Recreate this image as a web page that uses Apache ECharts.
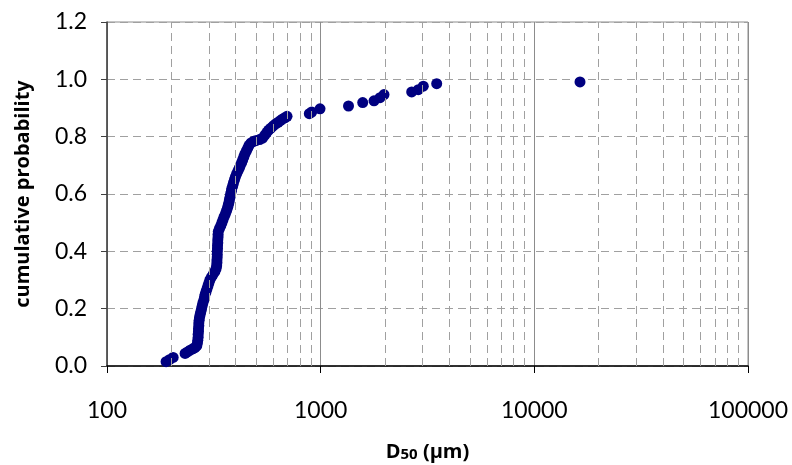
<!DOCTYPE html>
<html>
<head>
<meta charset="utf-8">
<script src="https://cdn.jsdelivr.net/npm/echarts@6/dist/echarts.min.js"></script>
<style>
  html, body { margin: 0; padding: 0; background: #fff; }
  #chart { width: 792px; height: 465px; }
</style>
</head>
<body>
<div id="chart"></div>
<script>
// D50 grain size (µm) and its cumulative probability
const d50 = [
  189, 196, 204, 232, 238, 245, 252, 258, 263, 265,
  266, 267, 267, 268, 268, 269, 269, 270, 271, 273,
  275, 277, 279, 281, 284, 286, 288, 291, 294, 297,
  300, 303, 308, 314, 320, 324, 326, 327, 327, 328,
  328, 328, 329, 329, 330, 330, 331, 331, 332, 336,
  341, 345, 349, 353, 358, 362, 366, 369, 372, 374,
  377, 379, 382, 384, 388, 391, 395, 399, 404, 410,
  416, 421, 427, 432, 437, 442, 449, 456, 462, 472,
  486, 500, 518, 535, 548, 560, 571, 585, 600, 616,
  632, 648, 664, 680, 696, 885, 908, 993, 1350, 1573,
  1777, 1896, 1979, 2667, 2864, 3022, 3492, 16360
];
const prob = [
  0.015, 0.022, 0.030, 0.044, 0.049, 0.055, 0.060, 0.064, 0.070, 0.080,
  0.090, 0.100, 0.110, 0.120, 0.130, 0.140, 0.150, 0.160, 0.170, 0.180,
  0.190, 0.200, 0.210, 0.220, 0.230, 0.240, 0.250, 0.260, 0.270, 0.280,
  0.290, 0.300, 0.310, 0.320, 0.330, 0.340, 0.350, 0.360, 0.370, 0.380,
  0.390, 0.400, 0.410, 0.420, 0.430, 0.440, 0.450, 0.460, 0.470, 0.480,
  0.490, 0.500, 0.510, 0.520, 0.530, 0.540, 0.550, 0.560, 0.570, 0.580,
  0.590, 0.600, 0.610, 0.620, 0.630, 0.640, 0.650, 0.660, 0.670, 0.680,
  0.690, 0.700, 0.710, 0.720, 0.730, 0.740, 0.750, 0.760, 0.770, 0.778,
  0.784, 0.787, 0.790, 0.795, 0.805, 0.815, 0.823, 0.830, 0.838, 0.845,
  0.850, 0.856, 0.862, 0.866, 0.871, 0.880, 0.886, 0.897, 0.907, 0.919,
  0.925, 0.936, 0.947, 0.956, 0.964, 0.976, 0.985, 0.991
];
// minor (dashed) vertical gridlines of the log axis
const minorX = [
  200, 300, 400, 500, 600, 700, 800, 900,
  2000, 3000, 4000, 5000, 6000, 7000, 8000, 9000,
  20000, 30000, 40000, 50000, 60000, 70000, 80000, 90000
];

const font = "Lato, 'Open Sans', sans-serif";
const titleFont = "'Open Sans', Lato, sans-serif";
const chart = echarts.init(document.getElementById("chart"), null, { renderer: "canvas" });

chart.setOption({
  animation: false,
  backgroundColor: "#fff",
  grid: {
    left: 107, right: 44, top: 22, bottom: 99,
    outerBoundsMode: "none",
    containLabel: false,
    show: true, borderColor: "#8c8c8c", borderWidth: 1
  },
  xAxis: {
    type: "log",
    logBase: 10,
    min: 100,
    max: 100000,
    name: "{d|D}{s|50}{d| (µm)}",
    nameLocation: "middle",
    nameGap: 76,
    nameTextStyle: {
      rich: {
        d: { fontFamily: titleFont, fontSize: 20, fontWeight: "bold", color: "#000" },
        s: { fontFamily: titleFont, fontSize: 15, fontWeight: "bold", color: "#000", padding: [5, 0, 0, 0] }
      }
    },
    axisLine: { lineStyle: { color: "#000", width: 1.5 } },
    axisTick: { show: true, length: 7, lineStyle: { color: "#000" } },
    axisLabel: {
      color: "#000", fontFamily: font, fontSize: 23, margin: 33,
      formatter: (v) => String(Math.round(v))
    },
    splitLine: { show: true, lineStyle: { color: "#8c8c8c", width: 1 } }
  },
  yAxis: {
    type: "value",
    min: 0,
    max: 1.2,
    interval: 0.2,
    name: "cumulative probability",
    nameLocation: "middle",
    nameGap: 74,
    nameTextStyle: { fontFamily: titleFont, fontSize: 20, fontWeight: "bold", color: "#000" },
    axisLine: { show: true, lineStyle: { color: "#404040", width: 1.5 } },
    axisTick: { show: true, length: 6, lineStyle: { color: "#404040" } },
    axisLabel: {
      color: "#000", fontFamily: font, fontSize: 23, margin: 20,
      formatter: (v) => v.toFixed(1)
    },
    splitLine: { show: true, lineStyle: { color: "#a0a0a0", type: [8, 5], width: 1 } }
  },
  series: [
    {
      type: "line",
      data: [],
      silent: true,
      z: 1,
      markLine: {
        silent: true,
        symbol: "none",
        label: { show: false },
        lineStyle: { color: "#a0a0a0", type: [8, 5], width: 1 },
        data: minorX.map((v) => ({ xAxis: v }))
      }
    },
    {
      type: "scatter",
      z: 3,
      symbol: "circle",
      symbolSize: 11,
      itemStyle: { color: "#000080", opacity: 1 },
      data: d50.map((v, i) => [v, prob[i]])
    }
  ]
});
</script>
</body>
</html>
